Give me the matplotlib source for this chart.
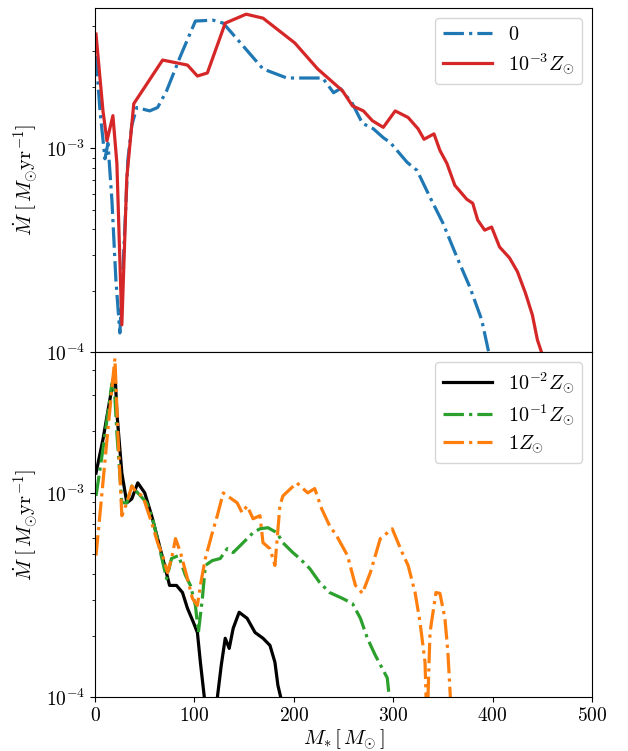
import matplotlib
matplotlib.use("Agg")
import matplotlib.pyplot as plt

plt.rcParams["mathtext.fontset"] = "cm"
plt.rcParams["font.family"] = "serif"
plt.rcParams["font.serif"] = ["cmr10"]
plt.rcParams["axes.formatter.use_mathtext"] = True

# accretion histories, M_* in M_sun, Mdot in M_sun / yr
m_z0 = [1, 5, 10, 13, 17, 21, 25, 29, 33, 37, 42, 55, 63, 72, 86, 101, 119,
        129, 149, 169, 193, 229, 240, 247, 259, 269, 280, 290, 297, 314, 324,
        337, 350, 364, 377, 389, 397]
mdot_z0 = [2.85e-3, 1.53e-3, 0.89e-3, 1.06e-3, 0.557e-3, 0.226e-3, 0.124e-3,
           0.317e-3, 0.874e-3, 1.30e-3, 1.59e-3, 1.53e-3, 1.59e-3, 1.92e-3,
           2.85e-3, 4.23e-3, 4.27e-3, 4.13e-3, 3.19e-3, 2.46e-3, 2.22e-3,
           2.22e-3, 1.88e-3, 1.97e-3, 1.66e-3, 1.33e-3, 1.25e-3, 1.13e-3,
           1.07e-3, 0.855e-3, 0.780e-3, 0.576e-3, 0.430e-3, 0.293e-3,
           0.209e-3, 0.144e-3, 0.095e-3]

m_z3 = [1, 8, 12, 18, 22, 27, 32, 39, 68, 93, 103, 113, 131, 152, 169, 201,
        224, 249, 259, 270, 279, 290, 302, 315, 325, 331, 341, 347, 354, 362,
        374, 380, 385, 392, 399, 407, 417, 425, 433, 440, 445, 450]
mdot_z3 = [3.65e-3, 1.53e-3, 1.09e-3, 1.45e-3, 0.845e-3, 0.136e-3, 0.722e-3,
           1.66e-3, 2.72e-3, 2.57e-3, 2.27e-3, 2.35e-3, 4.13e-3, 4.57e-3,
           4.37e-3, 3.30e-3, 2.46e-3, 1.92e-3, 1.62e-3, 1.53e-3, 1.37e-3,
           1.27e-3, 1.53e-3, 1.42e-3, 1.25e-3, 1.11e-3, 1.18e-3, 0.978e-3,
           0.845e-3, 0.659e-3, 0.563e-3, 0.538e-3, 0.445e-3, 0.397e-3,
           0.411e-3, 0.328e-3, 0.290e-3, 0.248e-3, 0.195e-3, 0.152e-3,
           0.115e-3, 0.097e-3]

m_z2 = [1, 8, 15, 20, 22, 27, 32, 37, 43, 50, 57, 63, 70, 75, 82, 88, 93, 99,
        103, 106, 111, 116, 122, 127, 131, 135, 139, 145, 153, 161, 169, 176,
        181, 184, 189]
mdot_z2 = [1.25e-3, 1.83e-3, 2.87e-3, 4.03e-3, 2.46e-3, 1.25e-3, 0.894e-3,
           0.935e-3, 1.12e-3, 1.0e-3, 0.773e-3, 0.597e-3, 0.441e-3, 0.352e-3,
           0.352e-3, 0.325e-3, 0.272e-3, 0.232e-3, 0.207e-3, 0.148e-3,
           0.09e-3, 0.05e-3, 0.09e-3, 0.143e-3, 0.194e-3, 0.173e-3, 0.217e-3,
           0.260e-3, 0.243e-3, 0.207e-3, 0.194e-3, 0.179e-3, 0.148e-3,
           0.114e-3, 0.09e-3]

m_z1 = [1, 8, 17, 19, 22, 27, 32, 37, 43, 52, 58, 65, 72, 77, 84, 91, 96, 101,
        104, 108, 111, 118, 126, 133, 139, 149, 159, 166, 174, 183, 189, 199,
        206, 216, 226, 236, 249, 259, 267, 274, 282, 289, 294, 297]
mdot_z1 = [0.966e-3, 1.64e-3, 3.44e-3, 3.60e-3, 1.96e-3, 0.894e-3, 0.894e-3,
           1.08e-3, 1.0e-3, 0.894e-3, 0.747e-3, 0.533e-3, 0.380e-3, 0.477e-3,
           0.493e-3, 0.394e-3, 0.352e-3, 0.281e-3, 0.207e-3, 0.304e-3,
           0.441e-3, 0.466e-3, 0.477e-3, 0.533e-3, 0.510e-3, 0.570e-3,
           0.638e-3, 0.667e-3, 0.675e-3, 0.638e-3, 0.570e-3, 0.510e-3,
           0.477e-3, 0.426e-3, 0.364e-3, 0.325e-3, 0.304e-3, 0.287e-3,
           0.243e-3, 0.194e-3, 0.160e-3, 0.138e-3, 0.124e-3, 0.09e-3]

m_z1sun = [1, 7, 13, 20, 23, 27, 32, 37, 42, 48, 57, 63, 68, 73, 77, 81, 86,
           93, 98, 103, 106, 111, 118, 123, 129, 136, 143, 148, 153, 159, 166,
           169, 176, 181, 186, 189, 203, 214, 221, 228, 236, 243, 254, 262,
           269, 277, 287, 299, 309, 315, 322, 327, 332, 334, 337, 343, 347,
           352, 355, 358]
mdot_z1sun = [0.493e-3, 1.0e-3, 2.05e-3, 4.56e-3, 1.96e-3, 0.773e-3,
              0.894e-3, 1.08e-3, 1.0e-3, 0.966e-3, 0.714e-3, 0.570e-3,
              0.493e-3, 0.407e-3, 0.477e-3, 0.597e-3, 0.510e-3, 0.380e-3,
              0.304e-3, 0.281e-3, 0.352e-3, 0.477e-3, 0.638e-3, 0.773e-3,
              1.0e-3, 0.945e-3, 0.894e-3, 0.799e-3, 0.864e-3, 0.747e-3,
              0.773e-3, 0.570e-3, 0.533e-3, 0.441e-3, 0.864e-3, 0.966e-3,
              1.12e-3, 1.0e-3, 1.05e-3, 0.836e-3, 0.690e-3, 0.617e-3,
              0.493e-3, 0.352e-3, 0.322e-3, 0.407e-3, 0.597e-3, 0.667e-3,
              0.510e-3, 0.441e-3, 0.325e-3, 0.232e-3, 0.148e-3, 0.07e-3,
              0.207e-3, 0.325e-3, 0.322e-3, 0.243e-3, 0.166e-3, 0.09e-3]

fig = plt.figure(figsize=(6.28, 7.51), dpi=100)
ax1 = fig.add_axes((0.1513, 0.5313, 0.7914, 0.4580))
ax2 = fig.add_axes((0.1513, 0.0719, 0.7914, 0.4594), sharex=ax1)

lw = 2.3
ax1.plot(m_z0, mdot_z0, "-.", color="tab:blue", lw=lw, label="$0$")
ax1.plot(m_z3, mdot_z3, "-", color="tab:red", lw=lw,
         label=r"$10^{-3}Z_{\odot}$")

ax2.plot(m_z2, mdot_z2, "-", color="black", lw=lw,
         label=r"$10^{-2}Z_{\odot}$")
ax2.plot(m_z1, mdot_z1, "-.", color="tab:green", lw=lw,
         label=r"$10^{-1}Z_{\odot}$")
ax2.plot(m_z1sun, mdot_z1sun, "-.", color="tab:orange", lw=lw,
         label=r"$1Z_{\odot}$")

for ax in (ax1, ax2):
    ax.set_yscale("log")
    ax.set_ylim(1e-4, 4.9e-3)
    ax.set_xlim(0, 500)
    ax.tick_params(labelsize=14)
    ax.set_ylabel(r"$\dot{M}\;[\,M_{\odot}{\rm yr}^{-1}]$", fontsize=15)
    ax.legend(loc="upper right", fontsize=14.5, labelspacing=0.35,
              handlelength=2.4)

ax1.tick_params(axis="x", which="both", bottom=False, labelbottom=False)
ax2.set_xlabel(r"$M_{*}\,[\,M_{\odot}\,]$", fontsize=15, labelpad=2)

fig.savefig("out.png", dpi=100)
